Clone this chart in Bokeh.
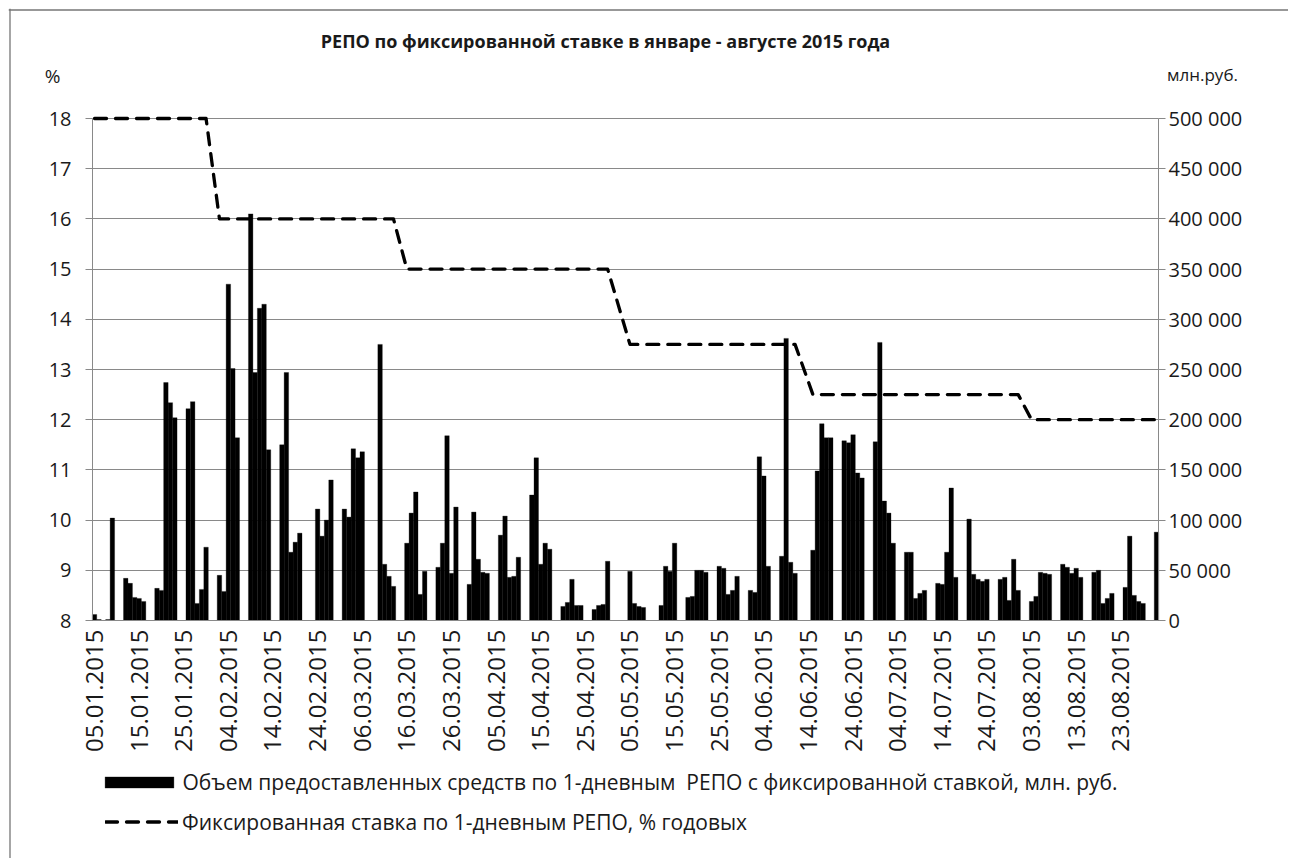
import datetime as dt
from bokeh.plotting import figure
from bokeh.models import (Range1d, LinearAxis, FixedTicker, SingleIntervalTicker,
                          CustomJSTickFormatter, DatetimeTickFormatter, Label,
                          Legend, LegendItem, ColumnDataSource, Span)
from bokeh.embed import file_html
from bokeh.resources import INLINE

# ---------------- data ----------------
dates = [
    "05.01.2015", "06.01.2015", "08.01.2015", "09.01.2015",
    "12.01.2015", "13.01.2015", "14.01.2015", "15.01.2015", "16.01.2015",
    "19.01.2015", "20.01.2015", "21.01.2015", "22.01.2015", "23.01.2015",
    "26.01.2015", "27.01.2015", "28.01.2015", "29.01.2015", "30.01.2015",
    "02.02.2015", "03.02.2015", "04.02.2015", "05.02.2015", "06.02.2015",
    "09.02.2015", "10.02.2015", "11.02.2015", "12.02.2015", "13.02.2015",
    "16.02.2015", "17.02.2015", "18.02.2015", "19.02.2015", "20.02.2015",
    "24.02.2015", "25.02.2015", "26.02.2015", "27.02.2015",
    "02.03.2015", "03.03.2015", "04.03.2015", "05.03.2015", "06.03.2015",
    "10.03.2015", "11.03.2015", "12.03.2015", "13.03.2015",
    "16.03.2015", "17.03.2015", "18.03.2015", "19.03.2015", "20.03.2015",
    "23.03.2015", "24.03.2015", "25.03.2015", "26.03.2015", "27.03.2015",
    "30.03.2015", "31.03.2015", "01.04.2015", "02.04.2015", "03.04.2015",
    "06.04.2015", "07.04.2015", "08.04.2015", "09.04.2015", "10.04.2015",
    "13.04.2015", "14.04.2015", "15.04.2015", "16.04.2015", "17.04.2015",
    "20.04.2015", "21.04.2015", "22.04.2015", "23.04.2015", "24.04.2015",
    "27.04.2015", "28.04.2015", "29.04.2015", "30.04.2015",
    "05.05.2015", "06.05.2015", "07.05.2015", "08.05.2015",
    "12.05.2015", "13.05.2015", "14.05.2015", "15.05.2015",
    "18.05.2015", "19.05.2015", "20.05.2015", "21.05.2015", "22.05.2015",
    "25.05.2015", "26.05.2015", "27.05.2015", "28.05.2015", "29.05.2015",
    "01.06.2015", "02.06.2015", "03.06.2015", "04.06.2015", "05.06.2015",
    "08.06.2015", "09.06.2015", "10.06.2015", "11.06.2015",
    "15.06.2015", "16.06.2015", "17.06.2015", "18.06.2015", "19.06.2015",
    "22.06.2015", "23.06.2015", "24.06.2015", "25.06.2015", "26.06.2015",
    "29.06.2015", "30.06.2015", "01.07.2015", "02.07.2015", "03.07.2015",
    "06.07.2015", "07.07.2015", "08.07.2015", "09.07.2015", "10.07.2015",
    "13.07.2015", "14.07.2015", "15.07.2015", "16.07.2015", "17.07.2015",
    "20.07.2015", "21.07.2015", "22.07.2015", "23.07.2015", "24.07.2015",
    "27.07.2015", "28.07.2015", "29.07.2015", "30.07.2015", "31.07.2015",
    "03.08.2015", "04.08.2015", "05.08.2015", "06.08.2015", "07.08.2015",
    "10.08.2015", "11.08.2015", "12.08.2015", "13.08.2015", "14.08.2015",
    "17.08.2015", "18.08.2015", "19.08.2015", "20.08.2015", "21.08.2015",
    "24.08.2015", "25.08.2015", "26.08.2015", "27.08.2015", "28.08.2015",
    "31.08.2015",
]

# volume of 1-day fixed-rate REPO, mln rub
volume = [
    6000, 1000, 1000, 102000,
    42000, 37000, 23000, 22000, 19000,
    32000, 30000, 237000, 217000, 202000,
    211000, 218000, 17000, 31000, 73000,
    45000, 29000, 335000, 251000, 182000,
    405000, 247000, 311000, 315000, 170000,
    175000, 247000, 68000, 78000, 87000,
    111000, 84000, 100000, 140000,
    111000, 103000, 171000, 162000, 168000,
    275000, 56000, 44000, 34000,
    77000, 107000, 128000, 26000, 49000,
    53000, 77000, 184000, 47000, 113000,
    36000, 108000, 61000, 48000, 47000,
    85000, 104000, 43000, 44000, 63000,
    125000, 162000, 56000, 77000, 71000,
    14000, 18000, 41000, 15000, 15000,
    11000, 15000, 16000, 59000,
    49000, 17000, 14000, 13000,
    15000, 54000, 49000, 77000,
    23000, 24000, 50000, 50000, 48000,
    54000, 52000, 26000, 30000, 44000,
    30000, 28000, 163000, 144000, 54000,
    64000, 281000, 58000, 47000,
    70000, 149000, 196000, 182000, 182000,
    179000, 177000, 185000, 147000, 142000,
    178000, 277000, 119000, 107000, 77000,
    68000, 68000, 22000, 27000, 30000,
    37000, 36000, 68000, 132000, 43000,
    101000, 46000, 41000, 39000, 41000,
    41000, 43000, 20000, 61000, 30000,
    19000, 24000, 48000, 47000, 46000,
    56000, 53000, 47000, 52000, 43000,
    48000, 50000, 17000, 22000, 27000,
    33000, 84000, 25000, 19000, 17000,
    88000,
]

# fixed rate on 1-day REPO, % p.a.
rate = [
    18, 18, 18, 18,
    18, 18, 18, 18, 18,
    18, 18, 18, 18, 18,
    18, 18, 18, 18, 18,
    16, 16, 16, 16, 16,
    16, 16, 16, 16, 16,
    16, 16, 16, 16, 16,
    16, 16, 16, 16,
    16, 16, 16, 16, 16,
    16, 16, 16, 16,
    15, 15, 15, 15, 15,
    15, 15, 15, 15, 15,
    15, 15, 15, 15, 15,
    15, 15, 15, 15, 15,
    15, 15, 15, 15, 15,
    15, 15, 15, 15, 15,
    15, 15, 15, 15,
    13.5, 13.5, 13.5, 13.5,
    13.5, 13.5, 13.5, 13.5,
    13.5, 13.5, 13.5, 13.5, 13.5,
    13.5, 13.5, 13.5, 13.5, 13.5,
    13.5, 13.5, 13.5, 13.5, 13.5,
    13.5, 13.5, 13.5, 13.5,
    12.5, 12.5, 12.5, 12.5, 12.5,
    12.5, 12.5, 12.5, 12.5, 12.5,
    12.5, 12.5, 12.5, 12.5, 12.5,
    12.5, 12.5, 12.5, 12.5, 12.5,
    12.5, 12.5, 12.5, 12.5, 12.5,
    12.5, 12.5, 12.5, 12.5, 12.5,
    12.5, 12.5, 12.5, 12.5, 12.5,
    12, 12, 12, 12, 12,
    12, 12, 12, 12, 12,
    12, 12, 12, 12, 12,
    12, 12, 12, 12, 12,
    12,
]

tick_labels = [
    "05.01.2015", "15.01.2015", "25.01.2015", "04.02.2015", "14.02.2015",
    "24.02.2015", "06.03.2015", "16.03.2015", "26.03.2015", "05.04.2015",
    "15.04.2015", "25.04.2015", "05.05.2015", "15.05.2015", "25.05.2015",
    "04.06.2015", "14.06.2015", "24.06.2015", "04.07.2015", "14.07.2015",
    "24.07.2015", "03.08.2015", "13.08.2015", "23.08.2015",
]

title_text = "РЕПО по фиксированной ставке в январе - августе 2015 года"
left_unit = "%"
right_unit = "млн.руб."
bar_label = "Объем предоставленных средств по 1-дневным  РЕПО с фиксированной ставкой, млн. руб."
line_label = "Фиксированная ставка по 1-дневным РЕПО, % годовых"

# ---------------- layout (pixels) ----------------
FIG_W, FIG_H = 1288, 858
FR_L, FR_T, FR_R, FR_B = 8, 8, FIG_W, FIG_H    # drawing frame
BOX_L, BOX_T = 9.5, 9.5                        # chart box border (open at right/bottom)
PA_L, PA_R, PA_T, PA_B = 92, 1158, 118, 620    # plot area
Y_MIN, Y_MAX = 8, 18
V_MIN, V_MAX = 0, 500000

EPOCH = dt.datetime(1970, 1, 1)
DAY = 86400000.0


def to_ms(s):
    return (dt.datetime.strptime(s, "%d.%m.%Y") - EPOCH).total_seconds() * 1000.0


xs = [to_ms(d) for d in dates]
X_LO = xs[0] - 0.45 * DAY
X_HI = xs[-1] + 0.45 * DAY
MS_PER_PX = (X_HI - X_LO) / (PA_R - PA_L)


def xpx(px):
    return X_LO + (px - PA_L) * MS_PER_PX


def ypx(py):
    return Y_MIN + (PA_B - py) * (Y_MAX - Y_MIN) / (PA_B - PA_T)


def vpx(py):
    return V_MIN + (PA_B - py) * (V_MAX - V_MIN) / (PA_B - PA_T)


src = ColumnDataSource(data=dict(x=xs, vol=volume, rate=rate))

FONT = "Open Sans"
GRID = "#898989"
BORDER = "#767676"
TEXT = "#1a1a1a"

p = figure(width=FIG_W, height=FIG_H, output_backend="svg", toolbar_location=None,
           x_axis_type="datetime",
           x_range=Range1d(xpx(FR_L), xpx(FR_R)),
           y_range=Range1d(ypx(FR_B), ypx(FR_T)),
           min_border_left=FR_L, min_border_right=FIG_W - FR_R,
           min_border_top=FR_T, min_border_bottom=FIG_H - FR_B,
           background_fill_color="white", border_fill_color="white")
p.outline_line_color = None
p.extra_y_ranges = {"vol": Range1d(vpx(FR_B), vpx(FR_T))}

# chart box border: only the top and left edges fall inside the picture
p.add_layout(Span(location=xpx(BOX_L), dimension="height",
                  line_color=BORDER, line_width=1.3))
p.add_layout(Span(location=ypx(BOX_T), dimension="width",
                  line_color=BORDER, line_width=1.3))

# grid (horizontal lines only inside the plot area)
grid = p.ygrid[0]
grid.ticker = SingleIntervalTicker(interval=1)
grid.bounds = (Y_MIN, Y_MAX)
grid.grid_line_color = GRID
grid.grid_line_width = 1
use_cross = "cross_bounds" in grid.properties()
if use_cross:
    grid.cross_bounds = (X_LO, X_HI)
else:
    grid.visible = False
p.xgrid.grid_line_color = None

# bars and line
bars = p.vbar(x="x", top="vol", width=1.0 * DAY, source=src, y_range_name="vol",
              fill_color="black", line_color="black", line_width=0.3)
line = p.line(x="x", y="rate", source=src, line_color="black", line_width=3.3,
              line_dash="12 9", line_cap="round", line_join="round")

# x axis, fixed at y = 8
xa = p.xaxis[0]
xa.fixed_location = Y_MIN
xa.bounds = (X_LO, X_HI)
xa.ticker = FixedTicker(ticks=[to_ms(t) for t in tick_labels])
fmt = "%d.%m.%Y"
xa.formatter = DatetimeTickFormatter(microseconds=fmt, milliseconds=fmt, seconds=fmt,
                                     minsec=fmt, minutes=fmt, hourmin=fmt, hours=fmt,
                                     days=fmt, months=fmt, years=fmt)
xa.major_label_orientation = 3.14159265 / 2
xa.major_label_text_font = FONT
xa.major_label_text_font_size = "24px"
xa.major_label_text_color = TEXT
xa.axis_line_color = GRID
xa.major_tick_line_color = None
xa.major_tick_out = 0
xa.major_tick_in = 0
xa.minor_tick_line_color = None
xa.major_label_standoff = 9

# left axis, fixed at the plot-area left edge
ya = p.yaxis[0]
ya.fixed_location = X_LO
ya.bounds = (Y_MIN, Y_MAX)
ya.ticker = SingleIntervalTicker(interval=1)
ya.major_label_text_font = FONT
ya.major_label_text_font_size = "20px"
ya.major_label_text_color = TEXT
ya.axis_line_color = GRID
ya.major_tick_line_color = GRID
ya.major_tick_out = 7
ya.major_tick_in = 0
ya.minor_tick_line_color = None
ya.major_label_standoff = 14

# right axis, fixed at the plot-area right edge
ra = LinearAxis(y_range_name="vol", fixed_location=X_HI, bounds=(V_MIN, V_MAX),
                ticker=SingleIntervalTicker(interval=50000),
                formatter=CustomJSTickFormatter(
                    code="return Math.round(tick).toString().replace(/\\B(?=(\\d{3})+(?!\\d))/g, ' ');"))
ra.major_label_text_font = FONT
ra.major_label_text_font_size = "20px"
ra.major_label_text_color = TEXT
ra.axis_line_color = GRID
ra.major_tick_line_color = GRID
ra.major_tick_out = 7
ra.major_tick_in = 0
ra.minor_tick_line_color = None
ra.major_label_standoff = 3
if not use_cross:
    ra.major_tick_in = PA_R - PA_L
    ra.level = "underlay"
p.add_layout(ra, "right")

# title and unit labels
p.add_layout(Label(x=xpx(605), y=ypx(40), text=title_text,
                   text_font=FONT, text_font_size="18px", text_font_style="bold",
                   text_align="center", text_baseline="middle", text_color=TEXT))
p.add_layout(Label(x=xpx(52), y=ypx(75), text=left_unit,
                   text_font=FONT, text_font_size="19px",
                   text_align="center", text_baseline="middle", text_color=TEXT))
p.add_layout(Label(x=xpx(1202), y=ypx(74), text=right_unit,
                   text_font=FONT, text_font_size="17px",
                   text_align="center", text_baseline="middle", text_color=TEXT))

# legends (bottom-left corner given relative to frame bottom-left)
# bar swatch: area glyphs are drawn with a 10% inset, so widen the glyph box
BAR_FS = 21
BAR_GW = 86
bar_row_h = 1.29 * BAR_FS
leg_bar = Legend(items=[LegendItem(label=bar_label, renderers=[bars])],
                 location=(105 - 0.1 * BAR_GW - FR_L, FR_B - (782 + bar_row_h / 2)),
                 glyph_width=BAR_GW, glyph_height=14, label_standoff=0,
                 padding=0, margin=0,
                 label_text_font=FONT, label_text_font_size=f"{BAR_FS}px",
                 label_text_color=TEXT,
                 border_line_color=None, background_fill_alpha=0)
p.add_layout(leg_bar, "center")

LINE_FS = 21
line_row_h = 1.29 * LINE_FS
leg_line = Legend(items=[LegendItem(label=line_label, renderers=[line])],
                  location=(105 - FR_L, FR_B - (822 + line_row_h / 2)),
                  glyph_width=73, glyph_height=11, label_standoff=4,
                  padding=0, margin=0,
                  label_text_font=FONT, label_text_font_size=f"{LINE_FS}px",
                  label_text_color=TEXT,
                  border_line_color=None, background_fill_alpha=0)
p.add_layout(leg_line, "center")

open("out.html", "w").write(file_html(p, INLINE))
